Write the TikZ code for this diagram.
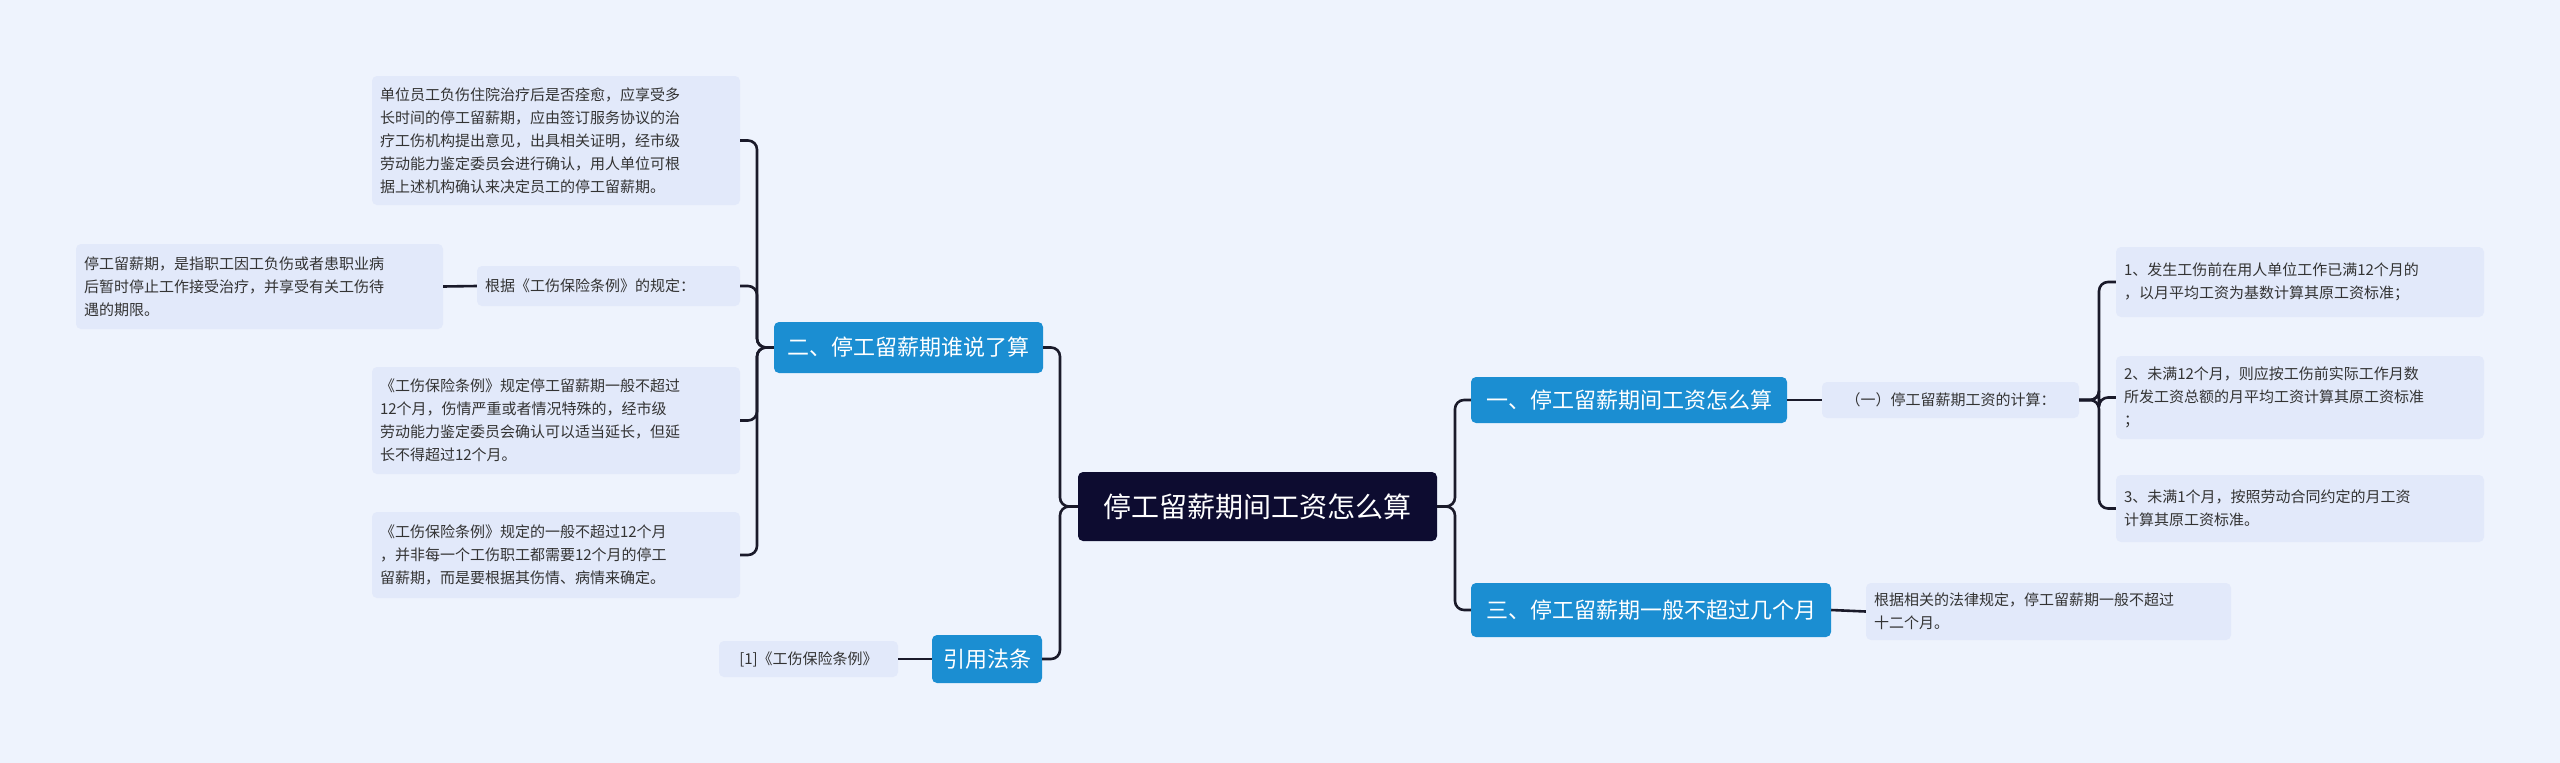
\documentclass[tikz,border=0pt]{standalone}
\usepackage{fontspec}
\setmainfont{Noto Sans CJK SC}
\usetikzlibrary{calc}
\definecolor{bgcol}{HTML}{EEF3FD}
\definecolor{leafcol}{HTML}{E2E9FA}
\definecolor{branchcol}{HTML}{1B8ED2}
\definecolor{rootcol}{HTML}{0D0C30}
\definecolor{linecol}{HTML}{1A1A2A}
\tikzset{
  leaf/.style={fill=leafcol, rounded corners=5pt, inner sep=8pt, align=left, font=\fontsize{15}{23}\selectfont, text=black!80},
  branch/.style={fill=branchcol, rounded corners=5pt, text=white, font=\fontsize{22}{26}\selectfont},
  link/.style={draw=linecol, line width=2.6pt, rounded corners=9pt}
}
\begin{document}
\begin{tikzpicture}[x=1pt, y=-1pt]
  \fill[bgcol] (0,0) rectangle (2560,763);
  \useasboundingbox (0,0) rectangle (2560,763);
  % centre
  \node[fill=rootcol, rounded corners=5pt, text=white, font=\fontsize{28}{32}\selectfont, minimum width=359, minimum height=69] (root) at (1257.5,506.5) {停工留薪期间工资怎么算};
  % right side
  \node[branch, minimum width=316, minimum height=46] (one) at (1629,400) {一、停工留薪期间工资怎么算};
  \node[branch, minimum width=360, minimum height=54] (three) at (1651,610) {三、停工留薪期一般不超过几个月};
  \node[leaf, minimum width=257, minimum height=36, align=center] (calc) at (1950.5,400) {（一）停工留薪期工资的计算：};
  \node[leaf, text width=352, minimum height=70] (calcA) at (2300,282) {1、发生工伤前在用人单位工作已满12个月的\\，以月平均工资为基数计算其原工资标准；};
  \node[leaf, text width=352, minimum height=83] (calcB) at (2300,397.5) {2、未满12个月，则应按工伤前实际工作月数\\所发工资总额的月平均工资计算其原工资标准\\；};
  \node[leaf, text width=352, minimum height=67] (calcC) at (2300,508.5) {3、未满1个月，按照劳动合同约定的月工资\\计算其原工资标准。};
  \node[leaf, text width=349, minimum height=57] (limit) at (2048.5,611.5) {根据相关的法律规定，停工留薪期一般不超过\\十二个月。};
  % left side
  \node[branch, minimum width=269, minimum height=51] (two) at (908.5,347.5) {二、停工留薪期谁说了算};
  \node[branch, minimum width=110, minimum height=48] (cite) at (987,659) {引用法条};
  \node[leaf, text width=352, minimum height=129] (who) at (556,140.5) {单位员工负伤住院治疗后是否痊愈，应享受多\\长时间的停工留薪期，应由签订服务协议的治\\疗工伤机构提出意见，出具相关证明，经市级\\劳动能力鉴定委员会进行确认，用人单位可根\\据上述机构确认来决定员工的停工留薪期。};
  \node[leaf, text width=247, minimum height=40] (rule) at (608.5,286) {根据《工伤保险条例》的规定：};
  \node[leaf, text width=351, minimum height=85] (define) at (259.5,286.5) {停工留薪期，是指职工因工负伤或者患职业病\\后暂时停止工作接受治疗，并享受有关工伤待\\遇的期限。};
  \node[leaf, text width=352, minimum height=107] (term) at (556,420.5) {《工伤保险条例》规定停工留薪期一般不超过\\12个月，伤情严重或者情况特殊的，经市级\\劳动能力鉴定委员会确认可以适当延长，但延\\长不得超过12个月。};
  \node[leaf, text width=352, minimum height=86] (each) at (556,555) {《工伤保险条例》规定的一般不超过12个月\\，并非每一个工伤职工都需要12个月的停工\\留薪期，而是要根据其伤情、病情来确定。};
  \node[leaf, minimum width=179, minimum height=36] (ref) at (808.5,659) {[1]《工伤保险条例》};
  % connectors
  \foreach \c in {two, cite} \draw[link] (root.west) -- (1060,506.5) |- (\c.east);
  \foreach \c in {one, three} \draw[link] (root.east) -- (1455,506.5) |- (\c.west);
  \foreach \c in {who, rule, term, each} \draw[link] (two.west) -- (757,347.5) |- (\c.east);
  \foreach \c in {calcA, calcB, calcC} \draw[link] (calc.east) -- (2099,400) |- (\c.west);
  \draw[link] (rule.west) -- (define.east);
  \draw[link] (cite.west) -- (ref.east);
  \draw[link] (one.east) -- (calc.west);
  \draw[link] (three.east) -- (limit.west);
\end{tikzpicture}
\end{document}
